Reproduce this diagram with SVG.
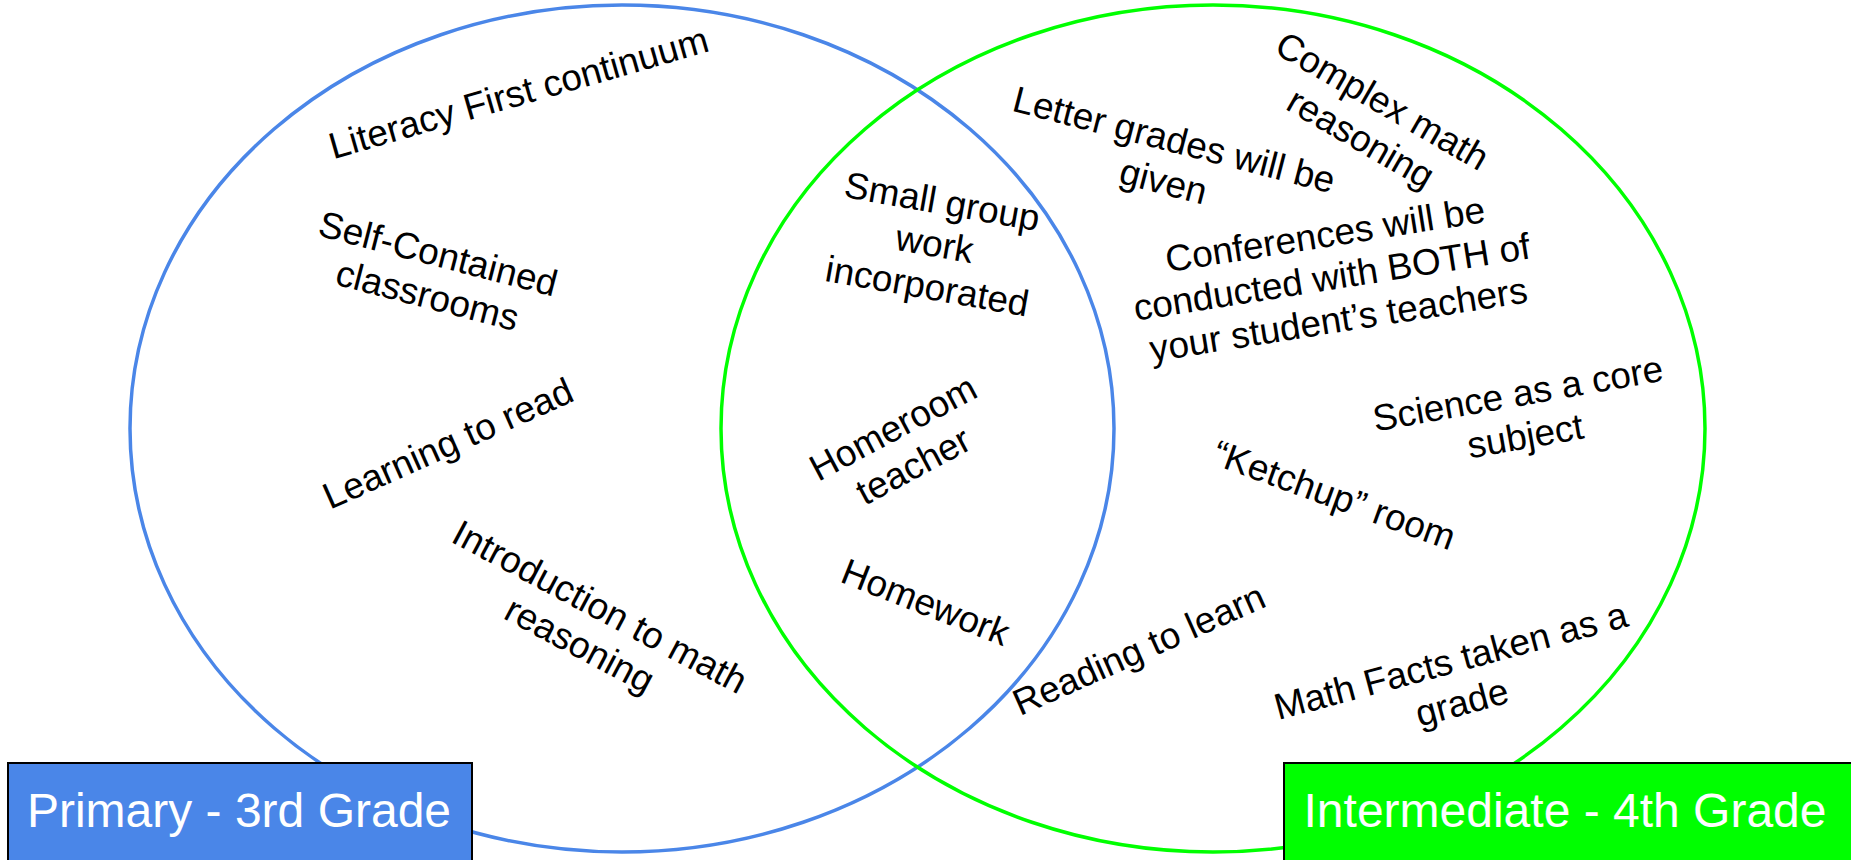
<svg xmlns="http://www.w3.org/2000/svg" width="1851" height="860" viewBox="0 0 1851 860">
<style>
.ring{fill:none;stroke-width:3.5}
.item{font-family:"Liberation Sans",Arial,sans-serif;font-size:37px;fill:#000;text-anchor:middle}
.lbl{font-family:"Liberation Sans",Arial,sans-serif;font-size:48px;fill:#fff;text-anchor:middle}
.box{stroke:#000;stroke-width:2}
</style>
<rect x="0" y="0" width="1851" height="860" fill="#fff"/>
<g id="circles">
<ellipse id="primary-circle" class="ring" cx="622" cy="428.5" rx="492" ry="423.5" stroke="#4a86e8"/>
<ellipse id="intermediate-circle" class="ring" cx="1213" cy="428.5" rx="492" ry="423.5" stroke="#00ff00"/>
</g>
<g id="connectors"></g>
<g id="t-literacy"><text class="item" transform="translate(522,105) rotate(-16)"><tspan x="0" y="0">Literacy First continuum</tspan></text></g>
<g id="t-selfcontained"><text class="item" transform="translate(435,266) rotate(14.5)"><tspan x="0" y="0">Self-Contained</tspan><tspan x="0" y="43">classrooms</tspan></text></g>
<g id="t-learning"><text class="item" transform="translate(453,455) rotate(-24)"><tspan x="0" y="0">Learning to read</tspan></text></g>
<g id="t-intro"><text class="item" transform="translate(594,618) rotate(28)"><tspan x="0" y="0">Introduction to math</tspan><tspan x="0" y="43">reasoning</tspan></text></g>
<g id="t-smallgroup"><text class="item" transform="translate(940,214) rotate(10)"><tspan x="0" y="0">Small group</tspan><tspan x="0" y="43">work</tspan><tspan x="0" y="86">incorporated</tspan></text></g>
<g id="t-homeroom"><text class="item" transform="translate(899,439) rotate(-28)"><tspan x="0" y="0">Homeroom</tspan><tspan x="0" y="43">teacher</tspan></text></g>
<g id="t-homework"><text class="item" transform="translate(921,614) rotate(21.5)"><tspan x="0" y="0">Homework</tspan></text></g>
<g id="t-letter"><text class="item" transform="translate(1171,152) rotate(14.5)"><tspan x="0" y="0">Letter grades will be</tspan><tspan x="0" y="43">given</tspan></text></g>
<g id="t-complex"><text class="item" transform="translate(1376,112) rotate(30)"><tspan x="0" y="0">Complex math</tspan><tspan x="0" y="43">reasoning</tspan></text></g>
<g id="t-conferences"><text class="item" transform="translate(1327,247) rotate(-9)"><tspan x="0" y="0">Conferences will be</tspan><tspan x="0" y="43">conducted with BOTH of</tspan><tspan x="0" y="86">your student’s teachers</tspan></text></g>
<g id="t-science"><text class="item" transform="translate(1520,406) rotate(-10)"><tspan x="0" y="0">Science as a core</tspan><tspan x="0" y="43">subject</tspan></text></g>
<g id="t-ketchup"><text class="item" transform="translate(1330,507) rotate(20)"><tspan x="0" y="0">“Ketchup” room</tspan></text></g>
<g id="t-reading"><text class="item" transform="translate(1144,661) rotate(-24)"><tspan x="0" y="0">Reading to learn</tspan></text></g>
<g id="t-mathfacts"><text class="item" transform="translate(1454,673) rotate(-15)"><tspan x="0" y="0">Math Facts taken as a</tspan><tspan x="0" y="43">grade</tspan></text></g>
<g id="label-primary"><rect class="box" x="8" y="763" width="464" height="105" fill="#4a86e8"/><text class="lbl" x="239" y="827">Primary - 3rd Grade</text></g>
<g id="label-intermediate"><rect class="box" x="1284" y="763" width="575" height="105" fill="#00ff00"/><text class="lbl" x="1565" y="827">Intermediate - 4th Grade</text></g>
</svg>
